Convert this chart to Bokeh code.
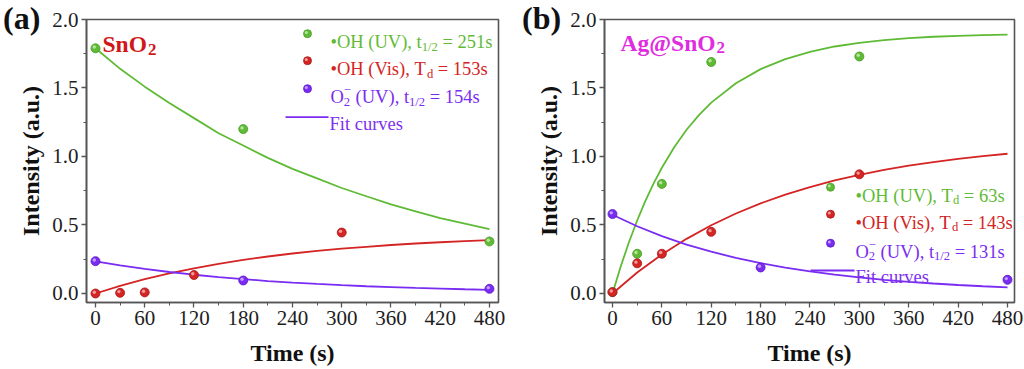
from bokeh.plotting import figure
from bokeh.layouts import row
from bokeh.models import FixedTicker, NumeralTickFormatter, Label, Div
from bokeh.embed import file_html
from bokeh.resources import INLINE

# ---------------- data ----------------
time_ticks = [0, 60, 120, 180, 240, 300, 360, 420, 480]
time_minor = [30, 90, 150, 210, 270, 330, 390, 450]
int_ticks = [0.0, 0.5, 1.0, 1.5, 2.0]
int_minor = [0.25, 0.75, 1.25, 1.75]

# panel (a) SnO2 - measured points
a_oh_uv_t = [0, 180, 480]
a_oh_uv_y = [1.79, 1.20, 0.38]
a_oh_vis_t = [0, 30, 60, 120, 300]
a_oh_vis_y = [0.00, 0.005, 0.008, 0.135, 0.445]
a_o2_uv_t = [0, 180, 480]
a_o2_uv_y = [0.236, 0.095, 0.034]

# panel (a) fit curves
fit_t = [0, 30, 60, 90, 120, 150, 180, 210, 240, 270, 300, 330, 360, 390, 420, 450, 480]
a_fit_oh_uv = [1.79, 1.64, 1.51, 1.39, 1.28, 1.17, 1.08, 0.99, 0.91, 0.84, 0.77, 0.71, 0.65, 0.60, 0.55, 0.51, 0.47]
a_fit_oh_vis = [0.0, 0.056, 0.105, 0.147, 0.184, 0.217, 0.245, 0.270, 0.292, 0.311, 0.327, 0.341, 0.354, 0.365, 0.374, 0.383, 0.390]
a_fit_o2_uv = [0.235, 0.205, 0.179, 0.157, 0.137, 0.120, 0.105, 0.091, 0.080, 0.070, 0.061, 0.053, 0.047, 0.041, 0.036, 0.031, 0.027]

# panel (b) Ag@SnO2 - measured points
b_oh_uv_t = [0, 30, 60, 120, 300]
b_oh_uv_y = [0.01, 0.29, 0.80, 1.69, 1.73]
b_oh_vis_t = [0, 30, 60, 120, 300]
b_oh_vis_y = [0.01, 0.22, 0.29, 0.45, 0.87]
b_o2_uv_t = [0, 180, 480]
b_o2_uv_y = [0.58, 0.19, 0.10]

# panel (b) fit curves
b_fit_oh_uv_t = [0, 10, 20, 30, 40, 50, 60, 75, 90, 105, 120, 150, 180, 210, 240, 270, 300, 330, 360, 390, 420, 450, 480]
b_fit_oh_uv = [0.0, 0.197, 0.374, 0.533, 0.676, 0.804, 0.918, 1.067, 1.195, 1.302, 1.393, 1.535, 1.638, 1.711, 1.764,
               1.803, 1.830, 1.850, 1.864, 1.874, 1.881, 1.886, 1.890]
b_fit_oh_vis = [0.0, 0.153, 0.285, 0.399, 0.498, 0.584, 0.658, 0.722, 0.777, 0.825, 0.866, 0.902, 0.933, 0.959, 0.982, 1.002, 1.020]
b_fit_o2_uv = [0.575, 0.491, 0.419, 0.357, 0.305, 0.260, 0.222, 0.189, 0.161, 0.138, 0.117, 0.100, 0.085, 0.073, 0.062, 0.053, 0.045]

NB = "\u00a0"
a_labels = [("\u2022OH (UV), t", "1/2", " = 251s"), ("\u2022OH (Vis), T", "d", " = 153s"), ("O", "2", " (UV), t", "1/2", " = 154s")]
b_labels = [("\u2022OH (UV), T", "d", " = 63s"), ("\u2022OH (Vis), T", "d", " = 143s"), ("O", "2", " (UV), t", "1/2", " = 131s")]
panel_tags = ["(a)", "(b)"]

# ---------------- style ----------------
GREEN = "#5fbb35"
GREEN_D = "#479a25"
GREEN_L = "#bfeaa8"
RED = "#d42424"
RED_D = "#a81818"
RED_L = "#f4a8a8"
BLUE = "#7a2cf2"
BLUE_D = "#5a18c8"
BLUE_L = "#c8aaff"
AXC = "#555555"
FONT = "Liberation Serif"
AFONT = "'Liberation Serif', serif"
W, H = 512, 369
TOP, BOT = 19, 302

W_REG = {' ': 250, NB: 250, '\u2022': 350, '(': 333, ')': 333, ',': 250, '.': 250, '/': 278, '=': 564, '\u2212': 564,
         'A': 722, 'F': 556, 'H': 722, 'O': 722, 'S': 556, 'T': 611, 'U': 722, 'V': 722,
         'c': 444, 'd': 500, 'e': 444, 'g': 500, 'i': 278, 'n': 500, 'r': 333, 's': 389, 't': 278,
         'u': 500, 'v': 500}
W_BOLD = {'(': 333, ')': 333, '@': 930, 'A': 722, 'O': 778, 'S': 556, 'a': 500, 'b': 556, 'g': 500, 'n': 556}


def tw(s, size, bold=False):
    t = W_BOLD if bold else W_REG
    return sum(t.get(c, 500) for c in s) * size / 1000.0


def make_panel(canvas_x0, frame_l, frame_r, xr):
    yr = (-0.0657, 2.0)
    p = figure(width=W, height=H, x_range=xr, y_range=yr,
               output_backend="svg", toolbar_location=None,
               min_border_left=frame_l - canvas_x0, min_border_right=canvas_x0 + W - frame_r,
               min_border_top=TOP, min_border_bottom=H - BOT)
    p.xaxis.ticker = FixedTicker(ticks=time_ticks, minor_ticks=time_minor)
    p.yaxis.ticker = FixedTicker(ticks=int_ticks, minor_ticks=int_minor)
    p.yaxis.formatter = NumeralTickFormatter(format="0.0")
    p.xaxis.axis_label = "Time (s)"
    p.yaxis.axis_label = "Intensity (a.u.)"
    for ax in (p.xaxis[0], p.yaxis[0]):
        ax.axis_line_color = AXC
        ax.axis_line_width = 1.6
        ax.major_tick_line_color = AXC
        ax.major_tick_line_width = 1.3
        ax.major_tick_out = 5
        ax.major_tick_in = 0
        ax.minor_tick_line_color = AXC
        ax.minor_tick_out = 3
        ax.minor_tick_in = 0
        ax.major_label_text_font = AFONT
        ax.major_label_text_font_size = "21px"
        ax.major_label_text_color = "#1e1e1e"
        ax.major_label_standoff = 3
        ax.axis_label_text_font = AFONT
        ax.axis_label_text_font_size = "24px"
        ax.axis_label_text_font_style = "bold"
        ax.axis_label_text_color = "#111111"
    p.yaxis.axis_label_standoff = 5
    p.xaxis.axis_label_standoff = 12
    p.xgrid.visible = False
    p.ygrid.visible = False
    p.outline_line_color = AXC
    p.outline_line_width = 1.6
    p.background_fill_color = "white"
    p.border_fill_color = "white"

    sx = (xr[1] - xr[0]) / (frame_r - frame_l)   # data per pixel
    sy = (yr[1] - yr[0]) / (BOT - TOP)

    def conv(xp, yp):
        return xr[0] + (xp - frame_l) * sx, yr[1] - (yp - TOP) * sy

    p._sx, p._sy = sx, sy
    return p, conv


def text(p, conv, xp, yp, s, size, color, bold=False):
    x, y = conv(xp, yp)
    s = s.replace(" ", NB)
    p.add_layout(Label(x=x, y=y, text=s, text_font=FONT, text_font_size=f"{size}px",
                       text_color=color, text_baseline="alphabetic", text_align="left",
                       text_font_style="bold" if bold else "normal"))


def tag_div(s, left, top):
    return Div(text=s, width=50, height=40,
               styles={"position": "absolute", "left": f"{left}px", "top": f"{top}px",
                       "font-family": "'Liberation Serif', serif", "font-size": "32px",
                       "font-weight": "bold", "color": "#111111", "line-height": "32px",
                       "z-index": "10", "margin": "0", "padding": "0"})


def balls(p, t, y, c, cd, cl, size=9):
    p.scatter(t, y, size=size, fill_color=c, line_color=cd, line_width=0.8)
    ht = [v - 1.2 * p._sx for v in t]
    hy = [v + 1.2 * p._sy for v in y]
    p.scatter(ht, hy, size=size * 0.38, fill_color=cl, line_color=None, fill_alpha=0.9)


def rich(p, conv, xp, yp, segs, size, color):
    x = xp
    sub_size = round(size * 0.68, 1)
    for s, kind in segs:
        if kind == "n":
            text(p, conv, x, yp, s, size, color)
            x += tw(s, size)
        elif kind in ("sub", "sub0"):
            text(p, conv, x, yp + size * 0.26, s, sub_size, color)
            if kind == "sub":
                x += tw(s, sub_size)
        elif kind == "sup":
            text(p, conv, x, yp - size * 0.36, s, sub_size, color)
            x += max(tw(s, sub_size), tw("2", sub_size))


def legend(p, conv, mx, tx, rows_y, line_y, line_x0, line_x1, labels, size):
    colors = [(GREEN, GREEN_D, GREEN_L), (RED, RED_D, RED_L), (BLUE, BLUE_D, BLUE_L)]
    for i, (ry, lab) in enumerate(zip(rows_y, labels)):
        c, cd, cl = colors[i]
        mxd, myd = conv(mx, ry - 8.3)
        balls(p, [mxd], [myd], c, cd, cl, size=8)
        if len(lab) == 3:
            segs = [(lab[0], "n"), (lab[1], "sub"), (lab[2], "n")]
        else:
            segs = [(lab[0], "n"), (lab[1], "sub0"), ("\u2212", "sup"), (lab[2], "n"), (lab[3], "sub"), (lab[4], "n")]
        rich(p, conv, tx, ry, segs, size, c)
    x0, y0 = conv(line_x0, line_y)
    x1, _ = conv(line_x1, line_y)
    p.line([x0, x1], [y0, y0], line_color=BLUE, line_width=1.8)
    text(p, conv, line_x1 + 1, line_y + 6.5, "Fit curves", size, "#8030ee")


# ---------------- panel (a) ----------------
pa, ca = make_panel(0, 86, 498, (-10.96, 491.0))
pa.line(fit_t, a_fit_oh_uv, line_color=GREEN, line_width=1.8)
pa.line(fit_t, a_fit_oh_vis, line_color=RED, line_width=1.8)
pa.line(fit_t, a_fit_o2_uv, line_color=BLUE, line_width=1.8)
balls(pa, a_oh_vis_t, a_oh_vis_y, RED, RED_D, RED_L)
balls(pa, a_oh_uv_t, a_oh_uv_y, GREEN, GREEN_D, GREEN_L)
balls(pa, a_o2_uv_t, a_o2_uv_y, BLUE, BLUE_D, BLUE_L)
legend(pa, ca, 307, 330, [41.5, 68.5, 96.5], 116.7, 285, 328, a_labels, 18.5)
text(pa, ca, 102, 43.5, "SnO", 23.5, "#d01818", bold=True)
text(pa, ca, 102 + tw("SnO", 23.5, True) + 1, 48.5, "2", 17, "#d01818", bold=True)

# ---------------- panel (b) ----------------
pb, cb = make_panel(512, 604, 1014, (-9.7, 488.5))
pb.line(b_fit_oh_uv_t, b_fit_oh_uv, line_color=GREEN, line_width=1.8)
pb.line(fit_t, b_fit_oh_vis, line_color=RED, line_width=1.8)
pb.line(fit_t, b_fit_o2_uv, line_color=BLUE, line_width=1.8)
balls(pb, b_oh_uv_t, b_oh_uv_y, GREEN, GREEN_D, GREEN_L)
balls(pb, b_oh_vis_t, b_oh_vis_y, RED, RED_D, RED_L)
balls(pb, b_o2_uv_t, b_o2_uv_y, BLUE, BLUE_D, BLUE_L)
legend(pb, cb, 830, 855, [195, 222, 251], 270, 810, 854, b_labels, 18.5)
text(pb, cb, 620, 42, "Ag@SnO", 23.5, "#e02ce0", bold=True)
text(pb, cb, 620 + tw("Ag@SnO", 23.5, True) + 1, 47, "2", 17, "#e02ce0", bold=True)

layout = row(pa, pb, tag_div(panel_tags[0], 3, 2), tag_div(panel_tags[1], 522, 2))
open("out.html", "w").write(file_html(layout, INLINE))
